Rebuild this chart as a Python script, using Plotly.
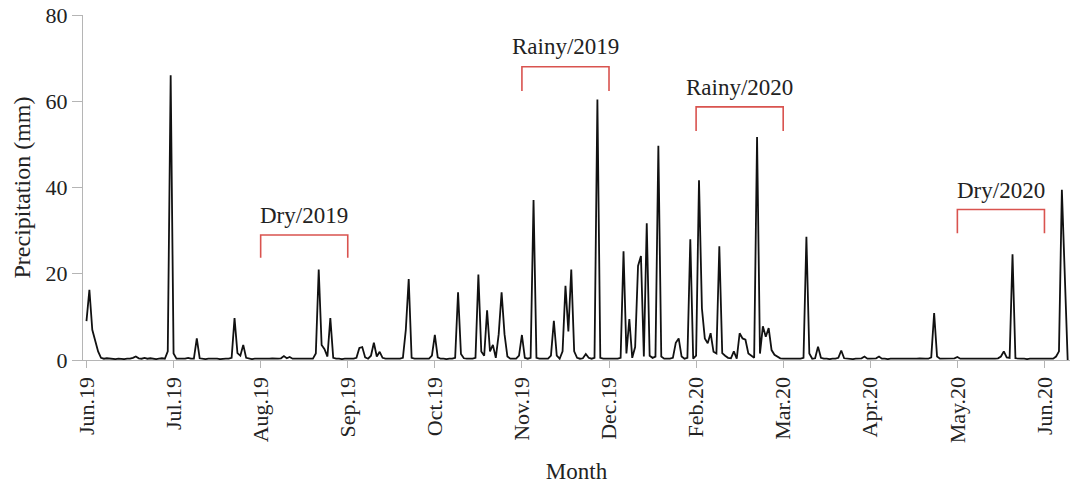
import plotly.graph_objects as go

# Daily precipitation (mm), one list per month (axis shows 30-day spacing)
jun19 = [9.0, 16.3, 7.0, 4.5, 2.0, 0.5, 0.3, 0.4, 0.3, 0.3, 0.2, 0.3, 0.2, 0.2, 0.3,
         0.3, 0.5, 0.8, 0.4, 0.3, 0.5, 0.3, 0.4, 0.3, 0.2, 0.3, 0.4, 0.3, 2.0, 66.0]
jul19 = [1.5, 0.3, 0.3, 0.4, 0.3, 0.5, 0.3, 0.3, 5.0, 0.4, 0.3, 0.2, 0.3, 0.3, 0.4,
         0.3, 0.2, 0.3, 0.3, 0.3, 0.5, 9.7, 1.6, 1.0, 3.5, 0.5, 0.3, 0.2, 0.3, 0.3]
aug19 = [0.3, 0.2, 0.3, 0.3, 0.4, 0.3, 0.3, 0.4, 0.9, 0.4, 0.7, 0.3, 0.3, 0.2, 0.3,
         0.3, 0.2, 0.3, 0.3, 1.5, 21.0, 3.5, 2.5, 0.8, 9.7, 0.5, 0.3, 0.3, 0.2, 0.3]
sep19 = [0.3, 0.4, 0.3, 0.5, 2.8, 3.0, 0.6, 0.3, 1.0, 4.0, 0.8, 1.9, 0.5, 0.3, 0.3,
         0.2, 0.3, 0.3, 0.3, 0.5, 7.0, 18.8, 0.5, 0.3, 0.3, 0.4, 0.3, 0.3, 0.3, 1.0]
oct19 = [5.8, 0.6, 0.3, 0.3, 0.2, 0.3, 0.3, 0.5, 15.7, 1.4, 0.4, 0.3, 0.3, 0.3, 0.5,
         19.8, 2.0, 1.0, 11.5, 2.0, 3.5, 0.5, 6.0, 15.7, 6.0, 0.8, 0.3, 0.3, 0.3, 1.0]
nov19 = [5.8, 0.5, 0.3, 0.5, 37.1, 0.5, 0.3, 0.3, 0.3, 0.3, 1.0, 9.1, 1.0, 0.3, 2.0,
         17.2, 6.6, 21.0, 2.0, 0.5, 0.3, 0.4, 1.4, 0.5, 0.3, 0.5, 60.4, 0.5, 0.3, 0.3]
dec19 = [0.3, 0.3, 0.3, 0.3, 0.5, 25.2, 1.5, 9.5, 0.5, 3.0, 21.8, 24.1, 0.8, 31.7, 1.0,
         0.5, 0.8, 49.7, 0.8, 0.3, 0.3, 0.3, 0.5, 4.0, 5.0, 0.8, 0.3, 0.5, 28.0, 0.3]
feb20 = [1.0, 41.7, 12.0, 5.0, 3.9, 6.2, 1.9, 1.5, 26.4, 1.6, 1.0, 0.5, 0.4, 2.0, 0.3,
         6.2, 5.0, 4.7, 1.5, 1.0, 0.5, 51.7, 1.5, 7.8, 5.4, 7.4, 2.3, 1.2, 0.7, 0.4]
mar20 = [0.3, 0.3, 0.3, 0.2, 0.3, 0.3, 0.3, 0.5, 28.6, 1.5, 0.3, 0.4, 3.1, 0.5, 0.3,
         0.3, 0.2, 0.3, 0.3, 0.5, 2.2, 0.4, 0.3, 0.3, 0.2, 0.3, 0.3, 0.4, 0.8, 0.3]
apr20 = [0.3, 0.3, 0.4, 0.8, 0.3, 0.3, 0.2, 0.3, 0.3, 0.3, 0.2, 0.3, 0.3, 0.3, 0.2,
         0.3, 0.3, 0.4, 0.3, 0.3, 0.3, 0.6, 10.9, 0.8, 0.3, 0.3, 0.3, 0.4, 0.3, 0.4]
may20 = [0.7, 0.3, 0.3, 0.3, 0.2, 0.3, 0.3, 0.3, 0.2, 0.3, 0.3, 0.3, 0.3, 0.3, 0.4,
         0.8, 2.0, 0.6, 0.5, 24.5, 0.4, 0.3, 0.3, 0.3, 0.2, 0.3, 0.3, 0.3, 0.3, 0.3]
jun20 = [0.3, 0.3, 0.4, 0.3, 0.8, 2.0, 39.5, 18.0, 0.0]

months = [jun19, jul19, aug19, sep19, oct19, nov19, dec19, feb20, mar20, apr20, may20, jun20]
tick_labels = ["Jun.19", "Jul.19", "Aug.19", "Sep.19", "Oct.19", "Nov.19", "Dec.19",
               "Feb.20", "Mar.20", "Apr.20", "May.20", "Jun.20"]
tick_days = [0, 30, 60, 90, 120, 150, 180, 210, 240, 270, 300, 330]

# Season brackets (day index)
season_names = ["Dry/2019", "Rainy/2019", "Rainy/2020", "Dry/2020"]
season_start = [60, 150, 210, 300]
season_end = [90, 180, 240, 330]
bracket_top = [29.0, 68.0, 58.7, 34.9]
bracket_bottom = [23.7, 62.4, 53.1, 29.4]
label_y = [33.5, 72.6, 63.3, 39.4]

precip = [v for m in months for v in m]
days = list(range(len(precip)))

SERIF = "Liberation Serif, Times New Roman, serif"
RED = "#d9534f"
AXIS = "#b5b5b5"

fig = go.Figure()
fig.add_trace(go.Scatter(x=days, y=precip, mode="lines",
                         line=dict(color="#111111", width=1.8), showlegend=False,
                         hoverinfo="skip"))

for name, s, e, top, bot, ly in zip(season_names, season_start, season_end,
                                    bracket_top, bracket_bottom, label_y):
    fig.add_trace(go.Scatter(x=[s, s, e, e], y=[bot, top, top, bot], mode="lines",
                             line=dict(color=RED, width=1.6), showlegend=False,
                             hoverinfo="skip"))
    fig.add_annotation(x=(s + e) / 2, y=ly, text=name, showarrow=False,
                       xanchor="center", yanchor="middle",
                       font=dict(family=SERIF, size=23, color="#222222"))

fig.update_layout(
    width=1074, height=486,
    margin=dict(l=83, r=4, t=15, b=126),
    paper_bgcolor="white", plot_bgcolor="white",
    font=dict(family=SERIF, color="#222222"),
)
fig.update_xaxes(
    range=[-1.2, 338.8], tickmode="array", tickvals=tick_days, ticktext=tick_labels,
    tickangle=-90, tickfont=dict(family=SERIF, size=22, color="#222222"),
    showgrid=False, zeroline=False, showline=True, linecolor=AXIS, linewidth=1.2,
    ticks="outside", ticklen=7, tickcolor=AXIS, tickwidth=1.2,
    title=dict(text="Month", font=dict(family=SERIF, size=23, color="#222222"), standoff=20),
)
fig.update_yaxes(
    range=[0, 80], tickmode="array", tickvals=[0, 20, 40, 60, 80],
    tickfont=dict(family=SERIF, size=22, color="#222222"),
    showgrid=False, zeroline=False, showline=True, linecolor=AXIS, linewidth=1.2,
    ticks="outside", ticklen=10, tickcolor=AXIS, tickwidth=1.2,
    title=dict(text="Precipitation (mm)", font=dict(family=SERIF, size=24, color="#222222"), standoff=8),
)

fig.write_html("out.html")
